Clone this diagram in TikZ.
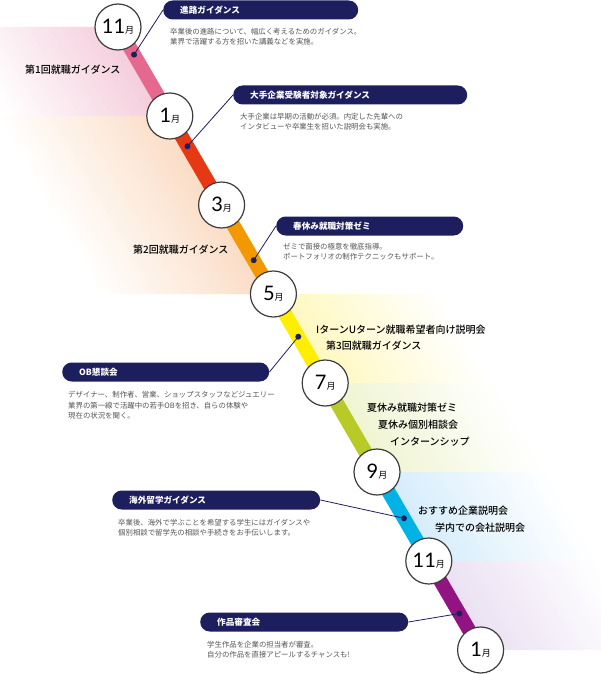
\documentclass[tikz,border=0pt]{standalone}
\usepackage{fontspec}
\usepackage{tikz}
\usetikzlibrary{positioning,calc}
\setmainfont{Noto Sans CJK JP}
\newfontfamily\numfont{Lato}
\newfontfamily\midfont{Noto Sans CJK JP Medium}
\pgfdeclarelayer{background}
\pgfsetlayers{background,main}

\definecolor{navy}{RGB}{28,30,94}
\definecolor{rimgray}{RGB}{60,60,60}
\definecolor{descgray}{RGB}{85,85,85}
\definecolor{lnpink}{RGB}{231,104,142}
\definecolor{lnred}{RGB}{230,56,20}
\definecolor{lnorange}{RGB}{243,152,0}
\definecolor{lnyellow}{RGB}{255,238,0}
\definecolor{lngreen}{RGB}{184,202,40}
\definecolor{lncyan}{RGB}{0,178,230}
\definecolor{lnpurple}{RGB}{146,20,131}
\definecolor{bandpink}{RGB}{244,204,219}
\definecolor{bandpeach}{RGB}{251,220,196}
\definecolor{bandyellow}{RGB}{255,248,190}
\definecolor{bandgreen}{RGB}{239,244,208}
\definecolor{bandblue}{RGB}{212,236,251}
\definecolor{bandlilac}{RGB}{234,224,242}

\tikzstyle{seg} = [draw,line width=14pt]
\tikzstyle{link} = [draw,navy,line width=0.8pt]
\newcommand{\monthlabel}[1]{{\numfont\fontsize{20}{20}\selectfont #1}{\fontsize{9}{9}\selectfont 月}}
% soft band beside the line: top node, bottom node, colour, horizontal reach
\newcommand{\softband}[4]{%
  \foreach \k in {0,...,29}{
    \pgfmathsetmacro\pa{#4*\k/30}
    \pgfmathsetmacro\pb{#4*(\k+1.3)/30}
    \pgfmathsetmacro\pc{100-100*\k/30}
    \fill[#3!\pc!white] ($(#1.center)+(\pa,0)$) -- ($(#2.center)+(\pa,0)$)
      -- ($(#2.center)+(\pb,0)$) -- ($(#1.center)+(\pb,0)$) -- cycle;
  }}

\begin{document}
\begin{tikzpicture}[x=1pt,y=-1pt,
  month/.style={circle,draw=rimgray,line width=1.2pt,fill=white,minimum size=46pt,inner sep=0pt},
  dot/.style={circle,fill=navy,minimum size=6pt,inner sep=0pt},
  banner/.style={fill=navy,rounded corners=9.5pt,minimum height=19pt,inner xsep=17pt,inner ysep=0pt,
    anchor=west,align=left,text=white,font=\bfseries\fontsize{8.6}{9}\selectfont},
  note/.style={align=left,text=descgray,inner sep=0pt,font=\fontsize{7.4}{10.8}\selectfont},
  event/.style={anchor=west,inner sep=0pt,font=\midfont\fontsize{10}{10}\selectfont}]

  \useasboundingbox (0,0) rectangle (600,674);

  % months along the line
  \node[month] (m11a) at (118,27)    {\monthlabel{11}};
  \node[month] (m1a)  at (169.8,116) {\monthlabel{1}};
  \node[month] (m3)   at (221.6,205) {\monthlabel{3}};
  \node[month] (m5)   at (273.4,294) {\monthlabel{5}};
  \node[month] (m7)   at (325.2,383) {\monthlabel{7}};
  \node[month] (m9)   at (377,472)   {\monthlabel{9}};
  \node[month] (m11b) at (428.8,561) {\monthlabel{11}};
  \node[month] (m1b)  at (480.6,650) {\monthlabel{1}};

  % dots
  \node[dot] (p1) at ($(m11a)!0.31!(m1a)$) {};
  \node[dot] (p2) at ($(m1a)!0.34!(m3)$) {};
  \node[dot] (p3) at ($(m3)!0.62!(m5)$) {};
  \node[dot] (p4) at ($(m5)!0.48!(m7)$) {};
  \node[dot] (p5) at ($(m9)!0.52!(m11b)$) {};
  \node[dot] (p6) at ($(m11b)!0.59!(m1b)$) {};

  % banners and notes
  \node[banner,text width=161pt] (b1) at (163,10) {進路ガイダンス};
  \node[note,below right=8pt and 7pt of b1.south west] (n1)
    {卒業後の進路について、幅広く考えるためのガイダンス。\\業界で活躍する方を招いた講義などを実施。};
  \node[banner,text width=200pt] (b2) at (233,95) {大手企業受験者対象ガイダンス};
  \node[note,below right=8pt and 7pt of b2.south west] (n2)
    {大手企業は早期の活動が必須。内定した先輩への\\インタビューや卒業生を招いた説明会も実施。};
  \node[banner,text width=153pt] (b3) at (276,226) {春休み就職対策ゼミ};
  \node[note,below right=7pt and 7pt of b3.south west] (n3)
    {ゼミで面接の極意を徹底指導。\\ポートフォリオの制作テクニックもサポート。};
  \node[banner,text width=173pt] (b4) at (62,372) {OB懇談会};
  \node[note,below right=9pt and 6pt of b4.south west] (n4)
    {デザイナー、制作者、営業、ショップスタッフなどジュエリー\\業界の第一線で活躍中の若手OBを招き、自らの体験や\\現在の状況を聞く。};
  \node[banner,text width=174pt] (b5) at (112,500) {海外留学ガイダンス};
  \node[note,below right=9pt and 6pt of b5.south west] (n5)
    {卒業後、海外で学ぶことを希望する学生にはガイダンスや\\個別相談で留学先の相談や手続きをお手伝いします。};
  \node[banner,text width=174pt] (b6) at (200,622) {作品審査会};
  \node[note,below right=9pt and 7pt of b6.south west] (n6)
    {学生作品を企業の担当者が審査。\\自分の作品を直接アピールするチャンスも!};

  % events
  \node[event] (e1) at (25,70)   {第1回就職ガイダンス};
  \node[event] (e2) at (133,250) {第2回就職ガイダンス};
  \node[event] (e3) at (316,330) {IターンUターン就職希望者向け説明会};
  \node[event] (e4) at (326,346) {第3回就職ガイダンス};
  \node[event] (e5) at (367,408) {夏休み就職対策ゼミ};
  \node[event] (e6) at (378,425) {夏休み個別相談会};
  \node[event] (e7) at (390,442) {インターンシップ};
  \node[event] (e8) at (418,511) {おすすめ企業説明会};
  \node[event] (e9) at (435,528) {学内での会社説明会};

  \begin{pgfonlayer}{background}
    % soft bands
    \softband{m11a}{m1a}{bandpink}{-160}
    \softband{m1a}{m5}{bandpeach}{-170}
    \softband{m5}{m7}{bandyellow}{165}
    \softband{m7}{m9}{bandgreen}{165}
    \softband{m9}{m11b}{bandblue}{165}
    \softband{m11b}{m1b}{bandlilac}{165}

    % coloured line
    \draw[seg,lnpink]   (m11a.center) -- (m1a.center);
    \draw[seg,lnred]    (m1a.center) -- (m3.center);
    \draw[seg,lnorange] (m3.center) -- (m5.center);
    \draw[seg,lnyellow] (m5.center) -- (m7.center);
    \draw[seg,lngreen]  (m7.center) -- (m9.center);
    \draw[seg,lncyan]   (m9.center) -- (m11b.center);
    \draw[seg,lnpurple] (m11b.center) -- (m1b.center);

    \path[link]
      (p1.center) edge[link] (b1.west)
      (p2.center) edge[link] (b2.west)
      (p3.center) edge[link] (b3.west)
      (p4.center) edge[link] (b4.east)
      (p5.center) edge[link] (b5.east)
      (p6.center) edge[link] (b6.east);
  \end{pgfonlayer}

\end{tikzpicture}
\end{document}
